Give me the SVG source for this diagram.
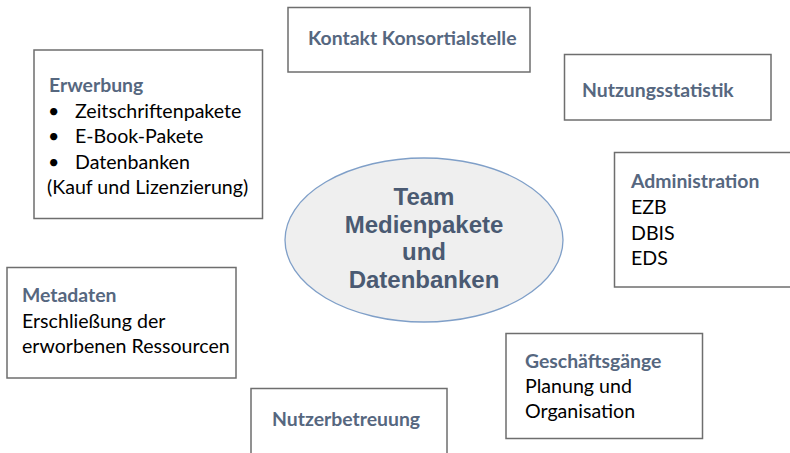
<svg xmlns="http://www.w3.org/2000/svg" width="790" height="453" viewBox="0 0 790 453">
<style>
.box{fill:#ffffff;stroke:#6e6e6e;stroke-width:1.5}
.hd{font-family:Lato,"Liberation Sans",sans-serif;font-weight:bold;font-size:19.4px;fill:#56677f}
.tx{font-family:Lato,"Liberation Sans",sans-serif;font-size:19.6px;fill:#000000}
.ct{font-family:"Liberation Sans",Arial,sans-serif;font-weight:bold;font-size:24px;fill:#4a5a72;text-anchor:middle}
</style>
<rect width="790" height="453" fill="#ffffff"/>
<g id="connectors"></g>
<g id="center">
<ellipse cx="424" cy="240" rx="139" ry="82" fill="#efefef" stroke="#7f9fc8" stroke-width="1.3"/>
<text class="ct" x="424" y="205">Team</text>
<text class="ct" x="424" y="233">Medienpakete</text>
<text class="ct" x="424" y="260">und</text>
<text class="ct" x="424" y="288">Datenbanken</text>
</g>
<g id="kontakt">
<rect class="box" x="288" y="7.5" width="242" height="64.5"/>
<text class="hd" x="308" y="45">Kontakt Konsortialstelle</text>
</g>
<g id="nutzungsstatistik">
<rect class="box" x="564.5" y="54.5" width="206.5" height="65.5"/>
<text class="hd" x="582" y="97">Nutzungsstatistik</text>
</g>
<g id="erwerbung">
<rect class="box" x="34" y="50" width="228.5" height="168.5"/>
<text class="hd" x="49" y="92">Erwerbung</text>
<text class="tx" x="48" y="117.5">•</text><text class="tx" x="75" y="117.5">Zeitschriftenpakete</text>
<text class="tx" x="48" y="143">•</text><text class="tx" x="75" y="143">E-Book-Pakete</text>
<text class="tx" x="48" y="168.5">•</text><text class="tx" x="75" y="168.5">Datenbanken</text>
<text class="tx" x="47" y="194">(Kauf und Lizenzierung)</text>
</g>
<g id="administration">
<rect class="box" x="614.5" y="152.5" width="190" height="134.5"/>
<text class="hd" x="631" y="188">Administration</text>
<text class="tx" x="631" y="214">EZB</text>
<text class="tx" x="631" y="240">DBIS</text>
<text class="tx" x="631" y="265">EDS</text>
</g>
<g id="metadaten">
<rect class="box" x="7" y="267.5" width="229" height="110.5"/>
<text class="hd" x="22" y="302">Metadaten</text>
<text class="tx" x="22" y="328">Erschließung der</text>
<text class="tx" x="22" y="353">erworbenen Ressourcen</text>
</g>
<g id="geschaeftsgaenge">
<rect class="box" x="506" y="333.5" width="196.5" height="105"/>
<text class="hd" x="525" y="368">Geschäftsgänge</text>
<text class="tx" x="525" y="393">Planung und</text>
<text class="tx" x="525" y="418">Organisation</text>
</g>
<g id="nutzerbetreuung">
<rect class="box" x="251" y="388.5" width="196" height="80"/>
<text class="hd" x="272" y="426">Nutzerbetreuung</text>
</g>
</svg>
